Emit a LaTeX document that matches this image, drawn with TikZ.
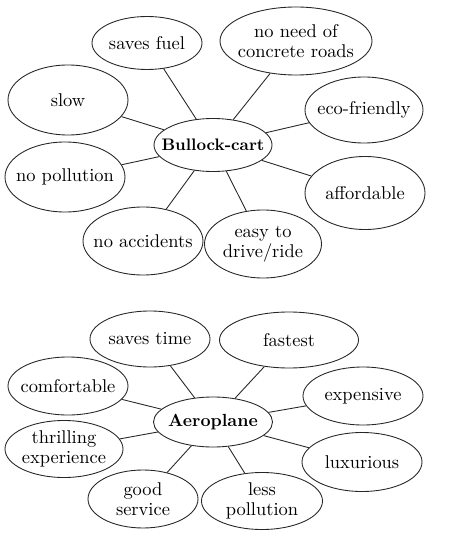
\documentclass[tikz,border=0pt]{standalone}
\usepackage{tikz}
\usetikzlibrary{shapes.geometric, positioning}
\tikzstyle{hub} = [draw=black!85, ellipse, line width=0.5pt, minimum width=2.36cm, minimum height=1.06cm, inner xsep=-14pt, inner ysep=0pt, align=center, font=\fontsize{9.5}{11}\selectfont\bfseries]
\tikzstyle{leaf} = [draw=black!85, ellipse, line width=0.5pt, minimum width=2.4cm, minimum height=1.36cm, inner xsep=-14pt, inner ysep=0pt, align=center, font=\fontsize{10.5}{11.5}\selectfont]
\tikzstyle{link} = [draw=black!85, line width=0.5pt]

\begin{document}
\begin{tikzpicture}[on grid, node distance=2cm]
    \useasboundingbox (0,0) rectangle (9.32,-11.06);
    % bullock-cart
    \node (cart) [hub] at (4.26,-2.9) {Bullock-cart};
    \node (fuel) [leaf, above left=2.04cm and 1.32cm of cart, minimum width=2.2cm, minimum height=1.06cm] {saves fuel};
    \node (roads) [leaf, above right=2.08cm and 1.66cm of cart, minimum width=3.04cm] {no need of\\concrete roads};
    \node (slow) [leaf, above left=0.9cm and 2.9cm of cart, minimum height=1.4cm] {slow};
    \node (eco) [leaf, above right=0.7cm and 3.02cm of cart, minimum width=2.36cm, minimum height=1.32cm] {eco-friendly};
    \node (nopoll) [leaf, below left=0.64cm and 2.96cm of cart, minimum height=1.4cm] {no pollution};
    \node (afford) [leaf, below right=0.96cm and 3.04cm of cart, minimum height=1.46cm] {affordable};
    \node (accid) [leaf, below left=1.92cm and 1.4cm of cart] {no accidents};
    \node (easy) [leaf, below right=1.98cm and 1.0cm of cart, minimum width=2.34cm] {easy to\\drive/ride};

    \draw [link] (cart) -- (fuel);
    \draw [link] (cart) -- (roads);
    \draw [link] (cart) -- (slow);
    \draw [link] (cart) -- (eco);
    \draw [link] (cart) -- (nopoll);
    \draw [link] (cart) -- (afford);
    \draw [link] (cart) -- (accid);
    \draw [link] (cart) -- (easy);

    % aeroplane
    \node (plane) [hub, below=5.54cm of cart, minimum width=2.38cm, minimum height=1.0cm, font=\fontsize{10}{11}\selectfont\bfseries] {Aeroplane};
    \node (time) [leaf, above left=1.66cm and 1.26cm of plane, minimum height=1.12cm] {saves time};
    \node (fast) [leaf, above right=1.64cm and 1.52cm of plane, minimum width=2.78cm, minimum height=1.12cm] {fastest};
    \node (comfort) [leaf, above left=0.72cm and 2.9cm of plane, minimum height=1.16cm] {comfortable};
    \node (costly) [leaf, above right=0.52cm and 3.0cm of plane, minimum height=1.16cm] {expensive};
    \node (thrill) [leaf, below left=0.54cm and 2.98cm of plane, minimum width=2.36cm, minimum height=1.14cm] {thrilling\\experience};
    \node (luxury) [leaf, below right=0.8cm and 2.98cm of plane, minimum height=1.18cm] {luxurious};
    \node (service) [leaf, below left=1.54cm and 1.4cm of plane, minimum width=2.2cm, minimum height=1.16cm] {good\\service};
    \node (lesspoll) [leaf, below right=1.58cm and 0.98cm of plane, minimum width=2.42cm, minimum height=1.14cm] {less\\pollution};

    \draw [link] (plane) -- (time);
    \draw [link] (plane) -- (fast);
    \draw [link] (plane) -- (comfort);
    \draw [link] (plane) -- (costly);
    \draw [link] (plane) -- (thrill);
    \draw [link] (plane) -- (luxury);
    \draw [link] (plane) -- (service);
    \draw [link] (plane) -- (lesspoll);
\end{tikzpicture}
\end{document}
